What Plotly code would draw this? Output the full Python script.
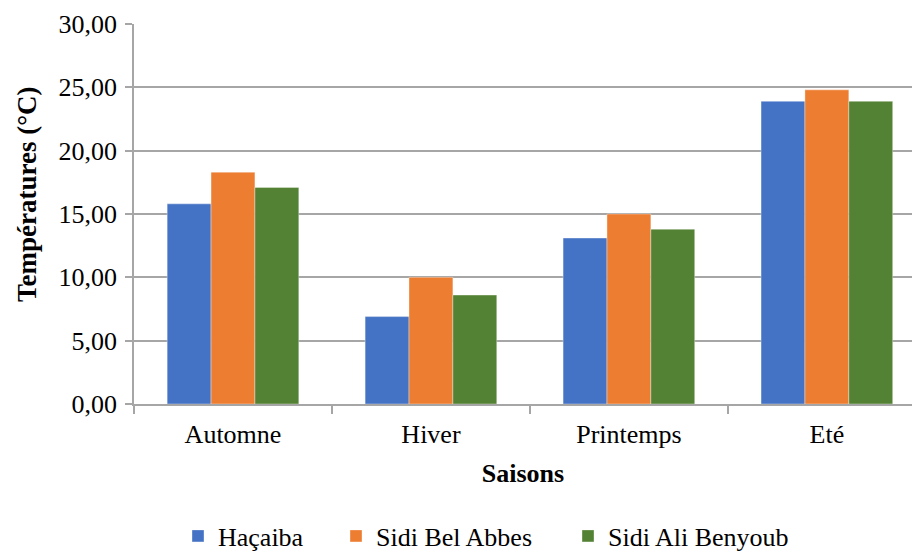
import plotly.graph_objects as go

saisons = ["Automne", "Hiver", "Printemps", "Eté"]
hacaiba = [15.8, 6.9, 13.1, 23.9]
sidi_bel_abbes = [18.3, 10.0, 15.0, 24.8]
sidi_ali_benyoub = [17.1, 8.6, 13.8, 23.9]

series = [
    ("Haçaiba", hacaiba, "#4472C4"),
    ("Sidi Bel Abbes", sidi_bel_abbes, "#ED7D31"),
    ("Sidi Ali Benyoub", sidi_ali_benyoub, "#548235"),
]

FONT = "Liberation Serif"
GRID = "#A6A6A6"
FS = 26

# plot area in pixels (used to place the legend entries and the y title)
W, H = 912, 553
L, R, T, B = 134, 0, 24, 149
plot_w = W - L - R
plot_h = H - T - B

def px_x(px):
    return (px - L) / plot_w

def px_y(py):
    return (T + plot_h - py) / plot_h

legend_left_px = [178, 336, 568]
legend_mid_px = 536

fig = go.Figure()
legend_ids = ["legend", "legend2", "legend3"]
for (name, vals, color), lid in zip(series, legend_ids):
    fig.add_trace(go.Bar(
        x=saisons, y=vals, name=name, legend=lid,
        marker=dict(color=color, line=dict(color="rgba(255,255,255,0.6)", width=0.6)),
    ))

layout_legends = {}
for lid, px in zip(legend_ids, legend_left_px):
    layout_legends[lid] = dict(
        x=px_x(px), xanchor="left",
        y=px_y(legend_mid_px), yanchor="middle",
        font=dict(family=FONT, size=FS), itemwidth=30,
        bgcolor="rgba(0,0,0,0)", borderwidth=0,
    )

fig.update_layout(
    width=W, height=H,
    margin=dict(l=L, r=R, t=T, b=B, autoexpand=False),
    paper_bgcolor="white", plot_bgcolor="white",
    barmode="group", bargap=0.335, bargroupgap=0,
    separators=", ",
    font=dict(family=FONT, size=FS, color="black"),
    showlegend=True,
    **layout_legends,
)

# y-axis title, set slightly above the plot centre
fig.add_annotation(
    text="<b>Températures (°C)</b>", textangle=-90,
    xref="paper", yref="paper", x=px_x(27), y=px_y(194),
    xanchor="center", yanchor="middle", showarrow=False,
    font=dict(family=FONT, size=27, color="black"),
)

fig.update_xaxes(
    range=[-0.5, 3.43],
    showline=True, linecolor=GRID, linewidth=1.5,
    ticks="outside", tickson="boundaries", ticklen=8, tickcolor=GRID, tickwidth=1.5,
    tickfont=dict(family=FONT, size=FS), ticklabelstandoff=6,
    title=dict(text="<b>Saisons</b>", font=dict(family=FONT, size=FS), standoff=16),
    showgrid=False,
)
fig.update_yaxes(
    range=[0, 30], dtick=5, tickformat=".2f",
    showline=True, linecolor=GRID, linewidth=1.5,
    ticks="outside", ticklen=7, tickcolor=GRID, tickwidth=1.5,
    showgrid=True, gridcolor=GRID, gridwidth=1.5,
    zeroline=False,
    tickfont=dict(family=FONT, size=FS), ticklabelstandoff=3,
)

fig.write_html("out.html")
